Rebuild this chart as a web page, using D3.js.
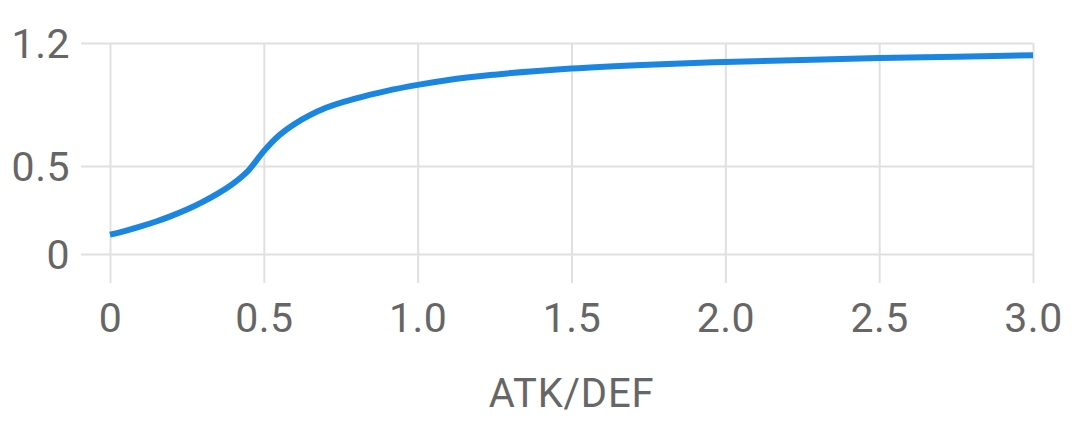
<!DOCTYPE html>
<html>
<head>
<meta charset="utf-8">
<script src="https://cdn.jsdelivr.net/npm/d3@7"></script>
<style>
  html, body { margin: 0; padding: 0; background: #fff; }
  svg { display: block; }
  text { font-family: Roboto, "Noto Sans", sans-serif; fill: #666; }
</style>
</head>
<body>
<svg id="chart" width="1080" height="422"></svg>
<script>
const ratioValues = [0, 0.05, 0.1, 0.15, 0.2, 0.25, 0.3, 0.35, 0.4, 0.45, 0.5, 0.55, 0.6, 0.65, 0.7, 0.8, 0.9, 1.0, 1.1, 1.25, 1.5, 1.75, 2.0, 2.25, 2.5, 2.75, 3.0];
const multiplierValues = [0.11, 0.132, 0.157, 0.185, 0.217, 0.253, 0.295, 0.343, 0.40, 0.475, 0.585, 0.675, 0.74, 0.79, 0.83, 0.885, 0.928, 0.962, 0.99, 1.02, 1.055, 1.077, 1.092, 1.104, 1.114, 1.122, 1.13];
const xTicks = [0, 0.5, 1.0, 1.5, 2.0, 2.5, 3.0];
const xTickLabels = ["0", "0.5", "1.0", "1.5", "2.0", "2.5", "3.0"];
const yTicks = [0, 0.5, 1.2];
const yTickLabels = ["0", "0.5", "1.2"];
const xTitle = "ATK/DEF";

const svg = d3.select("#chart");
const mLeft = 110, mRight = 1033, mTop = 43, mBottom = 254;
const x = d3.scaleLinear().domain([0, 3]).range([mLeft, mRight]);
const y = d3.scaleLinear().domain([0, 1.2]).range([mBottom, mTop]);
const gridColor = "#e0e0e0";
const fontSize = "41px";

// horizontal grid lines + y labels
const yAxis = d3.axisLeft(y).tickValues(yTicks).tickSize(-(mRight - 81)).tickFormat((d, i) => yTickLabels[i]).tickPadding(11);
const gy = svg.append("g").attr("transform", `translate(81,0)`).call(yAxis);
gy.select(".domain").remove();
gy.selectAll("line").attr("stroke", gridColor).attr("stroke-width", 2);
gy.selectAll("text").style("font-size", fontSize).style("letter-spacing", "0.5px").attr("fill", "#666").attr("dy", "0.35em");

// vertical grid lines + x labels
const xAxis = d3.axisBottom(x).tickValues(xTicks).tickSize(-(283 - mTop)).tickFormat((d, i) => xTickLabels[i]).tickPadding(20);
const gx = svg.append("g").attr("transform", `translate(0,283)`).call(xAxis);
gx.select(".domain").remove();
gx.selectAll("line").attr("stroke", gridColor).attr("stroke-width", 2);
gx.selectAll("text").style("font-size", fontSize).style("letter-spacing", "0.5px").attr("fill", "#666").attr("dy", "0.71em");

svg.append("text")
  .attr("x", (mLeft + mRight) / 2)
  .attr("y", 407)
  .attr("text-anchor", "middle")
  .style("font-size", "40px")
  .style("letter-spacing", "0.8px")
  .text(xTitle);

const data = ratioValues.map((v, i) => ({ x: v, y: multiplierValues[i] }));
const line = d3.line().x(d => x(d.x)).y(d => y(d.y)).curve(d3.curveMonotoneX);
svg.append("path")
  .datum(data)
  .attr("fill", "none")
  .attr("stroke", "#1a86e0")
  .attr("stroke-width", 6)
  .attr("d", line);
</script>
</body>
</html>
